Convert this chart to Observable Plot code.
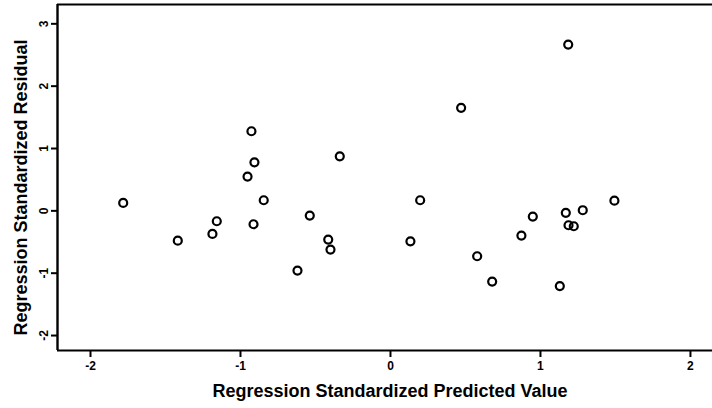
<!DOCTYPE html>
<html>
<head>
<meta charset="utf-8">
<script src="https://cdn.jsdelivr.net/npm/d3@7"></script>
<script src="https://cdn.jsdelivr.net/npm/@observablehq/plot@0.6"></script>
<style>
  html, body { margin: 0; padding: 0; background: #ffffff; }
  #chart svg { display: block; }
</style>
</head>
<body>
<div id="chart"></div>
<script>
// Regression Standardized Predicted Value (x) vs Regression Standardized Residual (y)
const predicted = [-1.782, -1.418, -1.187, -1.158, -0.927, -0.907, -0.953, -0.845, -0.913, -0.620,
                   -0.538, -0.415, -0.400, -0.338, 0.133, 0.198, 0.471, 0.578, 0.678, 0.873,
                   0.949, 1.129, 1.169, 1.185, 1.187, 1.222, 1.282, 1.493];
const residual  = [0.127, -0.478, -0.370, -0.167, 1.277, 0.779, 0.550, 0.170, -0.215, -0.958,
                   -0.075, -0.460, -0.621, 0.875, -0.488, 0.170, 1.652, -0.728, -1.134, -0.397,
                   -0.091, -1.206, -0.032, 2.667, -0.231, -0.247, 0.010, 0.164];
const xTicks = [-2, -1, 0, 1, 2];
const yTicks = [-2, -1, 0, 1, 2, 3];
const xDomain = [-2.22, 2.147];
const yDomain = [-2.24, 3.31];
const xTitle = "Regression Standardized Predicted Value";
const yTitle = "Regression Standardized Residual";

const points = predicted.map((x, i) => ({x, y: residual[i]}));
const font = "'Liberation Sans', Arial, sans-serif";

const chart = Plot.plot({
  width: 712,
  height: 408,
  marginLeft: 57,
  marginTop: 4,
  marginBottom: 58,
  marginRight: 0,
  style: {background: "transparent", fontFamily: font, color: "#000"},
  x: {domain: xDomain},
  y: {domain: yDomain},
  marks: [
    Plot.axisX({ticks: xTicks, tickSize: 7, tickPadding: 4, strokeWidth: 2, fontSize: 12, fontWeight: "bold", label: null, tickFormat: d => String(d)}),
    Plot.axisY({ticks: yTicks, tickSize: 6, tickPadding: 4, strokeWidth: 2, fontSize: 12, fontWeight: "bold", tickRotate: -90, label: null, tickFormat: d => String(d)}),
    Plot.ruleY([yDomain[0]], {stroke: "#000", strokeWidth: 2.2}),
    Plot.ruleY([yDomain[1]], {stroke: "#000", strokeWidth: 2.2}),
    Plot.ruleX([xDomain[0]], {stroke: "#000", strokeWidth: 2.4}),
    Plot.dot(points, {x: "x", y: "y", r: 4, stroke: "#000", strokeWidth: 2.2, fill: "none"}),
    Plot.text([xTitle], {frameAnchor: "bottom", dx: 5, dy: 46, text: d => d, fontSize: 18, fontWeight: "bold", fill: "#000", textAnchor: "middle"}),
    Plot.text([yTitle], {frameAnchor: "left", dx: -36, dy: 10, rotate: -90, textAnchor: "middle", text: d => d, fontSize: 18, fontWeight: "bold", fill: "#000"})
  ]
});
document.getElementById("chart").appendChild(chart);
</script>
</body>
</html>
